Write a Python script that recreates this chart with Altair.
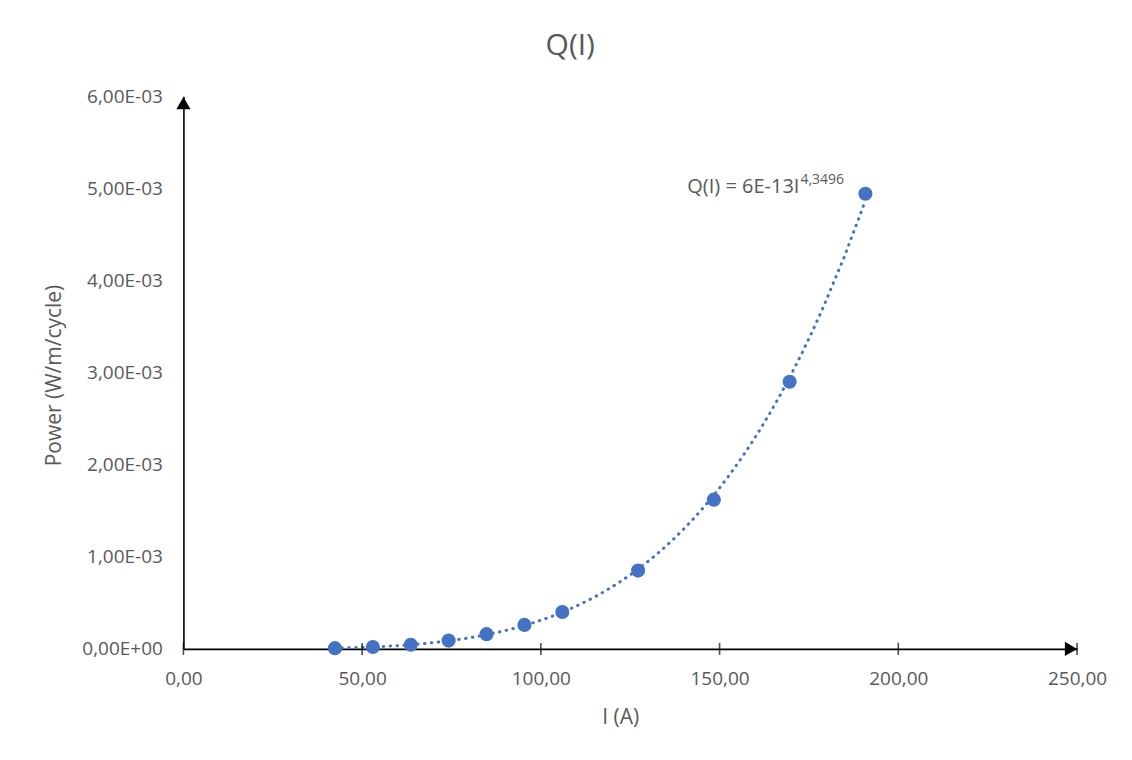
import altair as alt
import pandas as pd

# ---- data ----
current = [42.4, 53.0, 63.6, 74.2, 84.8, 95.4, 106.0, 127.2, 148.4, 169.6, 190.8]
power = [0.000008, 0.00002, 0.000045, 0.00009, 0.00016, 0.00026, 0.0004,
         0.00085, 0.00162, 0.0029, 0.00494]
x_ticks = [0, 50, 100, 150, 200, 250]
y_ticks = [0, 0.001, 0.002, 0.003, 0.004, 0.005, 0.006]
chart_title = "Q(I)"
x_title = "I (A)"
y_title = "Power (W/m/cycle)"
eq_main = "Q(I) = 6E-13I"
eq_exp = "4,3496"

BLUE = "#4472C4"
GRAY = "#595959"
FONT = "Open Sans"

df = pd.DataFrame({"I": current, "Q": power})
last = df.tail(1)
ticks_df = pd.DataFrame({"I": x_ticks, "Q": [0] * len(x_ticks)})
arrow_up = pd.DataFrame({"I": [0], "Q": [max(y_ticks)]})
arrow_right = pd.DataFrame({"I": [max(x_ticks)], "Q": [0]})

x_scale = alt.Scale(domain=[0, 250], nice=False, zero=False)
y_scale = alt.Scale(domain=[0, 0.006], nice=False)

x_axis = alt.Axis(
    values=x_ticks,
    labelExpr="replace(format(datum.value, '.2f'), '.', ',')",
    title=x_title, grid=False, ticks=False, tickSize=0,
    domainColor="black", domainWidth=1.6, labelPadding=21, labelFlush=False,
    labelFont=FONT, labelFontSize=19, labelColor=GRAY,
    titleFont=FONT, titleFontSize=21, titleColor=GRAY, titleFontWeight="normal",
    titleX=437, titleY=69, titleBaseline="middle", titleAlign="center",
)
y_axis = alt.Axis(
    values=y_ticks,
    labelExpr="replace(format(datum.value * 1000, '.2f'), '.', ',') + (datum.value == 0 ? 'E+00' : 'E-03')",
    title=y_title, grid=False, ticks=False, tickSize=0,
    domainColor="black", domainWidth=1.6, labelPadding=21, labelFlush=False,
    labelFont=FONT, labelFontSize=19, labelColor=GRAY,
    titleFont=FONT, titleFontSize=21, titleColor=GRAY, titleFontWeight="normal",
    titleX=-129, titleY=279, titleAngle=-90, titleBaseline="middle", titleAlign="center",
)

X = alt.X("I:Q", scale=x_scale, axis=x_axis)
Y = alt.Y("Q:Q", scale=y_scale, axis=y_axis)

trend = alt.Chart(df).transform_regression("I", "Q", method="pow").mark_line(
    color=BLUE, strokeWidth=3, strokeDash=[0.5, 6.4], strokeCap="round"
).encode(x=X, y=Y)

points = alt.Chart(df).mark_circle(size=200, color=BLUE, opacity=1).encode(x=X, y=Y)

xticks = alt.Chart(ticks_df).mark_tick(
    orient="vertical", size=12, thickness=1.6, color="black"
).encode(x=X, y=Y)

up = alt.Chart(arrow_up).mark_point(
    shape="triangle-up", size=200, filled=True, color="black", opacity=1, yOffset=7
).encode(x=X, y=Y)
right = alt.Chart(arrow_right).mark_point(
    shape="triangle-right", size=200, filled=True, color="black", opacity=1, xOffset=-6
).encode(x=X, y=Y)

eq1 = alt.Chart(last).mark_text(
    text=eq_main, font=FONT, fontSize=20, color=GRAY, align="right",
    baseline="alphabetic", dx=-66, dy=-1
).encode(x=X, y=Y)
eq2 = alt.Chart(last).mark_text(
    text=eq_exp, font=FONT, fontSize=14, color=GRAY, align="left",
    baseline="alphabetic", dx=-65, dy=-10
).encode(x=X, y=Y)

chart = alt.layer(trend, xticks, up, right, points, eq1, eq2).properties(
    width=894, height=553,
    background="white",
    title=alt.TitleParams(chart_title, font=FONT, fontSize=30, color=GRAY,
                          fontWeight="normal", anchor="middle", dx=-60,
                          baseline="alphabetic", offset=2),
    autosize=alt.AutoSizeParams(type="none"),
    padding={"left": 175.5, "top": 88, "right": 47, "bottom": 103},
).configure_view(stroke=None)

chart.save("out.html", embed_options={"renderer": "svg", "actions": False})
